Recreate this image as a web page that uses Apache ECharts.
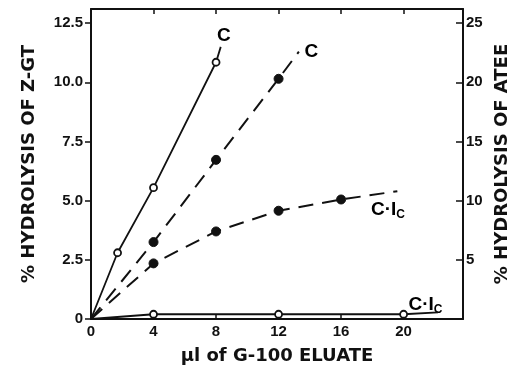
<!DOCTYPE html>
<html><head><meta charset="utf-8">
<script src="https://cdn.jsdelivr.net/npm/echarts@6/dist/echarts.min.js"></script>
<style>html,body{margin:0;padding:0;background:#fff}#c{width:528px;height:370px}</style>
</head><body><div id="c"></div>
<script>
// ---- data ----
const xTicks = [0, 4, 8, 12, 16, 20];
const yLeftTicks = ['0', '2.5', '5.0', '7.5', '10.0', '12.5'];
const yRightTicks = ['5', '10', '15', '20', '25'];

// Z-GT, enzyme C (left axis, open circles, solid)
const zgtC_x = [0, 1.7, 4, 8];
const zgtC_y = [0, 2.8, 5.55, 10.85];
const zgtC_end = [8.3, 11.5];

// ATEE, enzyme C (right axis, filled circles, dashed)
const ateeC_x = [0, 4, 8, 12];
const ateeC_y = [0, 6.5, 13.45, 20.3];
const ateeC_end = [13.3, 22.6];

// ATEE, C·Ic (right axis, filled circles, dashed)
const ateeCI_x = [0, 4, 8, 12, 16];
const ateeCI_y = [0, 4.7, 7.4, 9.15, 10.1];
const ateeCI_end = [19.6, 10.8];

// Z-GT, C·Ic (left axis, open circles, solid)
const zgtCI_x = [0, 4, 12, 20];
const zgtCI_y = [0, 0.2, 0.2, 0.2];
const zgtCI_end = [22.2, 0.28];

// curve labels (data coords on left axis)
const labelText = ['C', 'C', 'CI', 'CI'];
const labelPos = [[8.5, 11.95], [14.1, 11.3], [19.0, 4.6], [21.4, 0.62]];

// ---- build ----
function pts(xs, ys, end, sym) {
  const d = xs.map((x, i) => ({ value: [x, ys[i]], symbol: (x === 0 ? 'none' : sym) }));
  d.push({ value: end, symbol: 'none' });
  return d;
}
const FONT = 'Liberation Sans';
const TFONT = 'DejaVu Sans';
const lineCol = '#111';
function leftFmt(v) {
  const i = v / 2.5;
  return Math.abs(i - Math.round(i)) < 1e-6 ? (yLeftTicks[Math.round(i)] || '') : '';
}
function rightFmt(v) {
  const i = v / 5;
  return Math.abs(i - Math.round(i)) < 1e-6 ? (yRightTicks[Math.round(i) - 1] || '') : '';
}
const chart = echarts.init(document.getElementById('c'), null, { renderer: 'canvas' });
chart.setOption({
  animation: false,
  backgroundColor: '#fff',
  grid: { left: 91, right: 65, top: 9, bottom: 49, show: false },
  xAxis: [{
    type: 'value', min: 0, max: 23.8, interval: 4, position: 'bottom',
    name: 'μl of G-100 ELUATE', nameLocation: 'middle', nameGap: 28,
    nameTextStyle: { fontFamily: TFONT, fontWeight: 'bold', fontSize: 18, color: '#111' },
    axisLine: { show: true, onZero: false, lineStyle: { color: lineCol, width: 2 } },
    axisTick: { show: true, inside: true, length: 5, lineStyle: { color: lineCol, width: 1.5 } },
    axisLabel: { showMaxLabel: false, margin: 5, fontFamily: FONT, fontWeight: 'bold', fontSize: 15, color: '#111',
      formatter: v => (xTicks.indexOf(v) >= 0 ? String(v) : '') },
    splitLine: { show: false }
  }, {
    type: 'value', min: 0, max: 23.8, interval: 4, position: 'top',
    axisLine: { show: true, onZero: false, lineStyle: { color: lineCol, width: 2 } },
    axisTick: { show: true, inside: true, length: 5, lineStyle: { color: lineCol, width: 1.5 } },
    axisLabel: { show: false }, splitLine: { show: false }
  }],
  yAxis: [{
    type: 'value', min: 0, max: 13.1, interval: 2.5, position: 'left',
    name: '% HYDROLYSIS OF Z-GT', nameLocation: 'middle', nameGap: 53, nameRotate: 90,
    nameTextStyle: { fontFamily: TFONT, fontWeight: 'bold', fontSize: 18, color: '#111' },
    axisLine: { show: true, onZero: false, lineStyle: { color: lineCol, width: 2 } },
    axisTick: { show: true, inside: false, length: 6, lineStyle: { color: lineCol, width: 1.5 } },
    axisLabel: { showMaxLabel: false, margin: 8, fontFamily: FONT, fontWeight: 'bold', fontSize: 15, color: '#111',
      formatter: leftFmt },
    splitLine: { show: false }
  }, {
    type: 'value', min: 0, max: 26.2, interval: 5, position: 'right',
    name: '% HYDROLYSIS OF ATEE', nameLocation: 'middle', nameGap: 30, nameRotate: 90,
    nameTextStyle: { fontFamily: TFONT, fontWeight: 'bold', fontSize: 18, color: '#111' },
    axisLine: { show: true, onZero: false, lineStyle: { color: lineCol, width: 2 } },
    axisTick: { show: true, inside: true, length: 7, lineStyle: { color: lineCol, width: 1.5 } },
    axisLabel: { showMinLabel: false, showMaxLabel: false, margin: 3, fontFamily: FONT, fontWeight: 'bold', fontSize: 15, color: '#111',
      formatter: rightFmt },
    splitLine: { show: false }
  }],
  series: [{
    type: 'line', yAxisIndex: 0, data: pts(zgtC_x, zgtC_y, zgtC_end, 'circle'),
    symbolSize: 7, showAllSymbol: true,
    lineStyle: { color: lineCol, width: 1.8, type: 'solid' },
    itemStyle: { color: '#fff', borderColor: lineCol, borderWidth: 1.8 }, z: 3
  }, {
    type: 'line', yAxisIndex: 1, data: pts(ateeC_x, ateeC_y, ateeC_end, 'circle'),
    symbolSize: 9, showAllSymbol: true,
    lineStyle: { color: lineCol, width: 2, type: [15, 9] },
    itemStyle: { color: lineCol, borderColor: lineCol, borderWidth: 1 }, z: 3
  }, {
    type: 'line', yAxisIndex: 1, data: pts(ateeCI_x, ateeCI_y, ateeCI_end, 'circle'),
    symbolSize: 9, showAllSymbol: true,
    lineStyle: { color: lineCol, width: 2, type: [15, 9] },
    itemStyle: { color: lineCol, borderColor: lineCol, borderWidth: 1 }, z: 3
  }, {
    type: 'line', yAxisIndex: 0, data: pts(zgtCI_x, zgtCI_y, zgtCI_end, 'circle'),
    symbolSize: 7, showAllSymbol: true,
    lineStyle: { color: lineCol, width: 1.8, type: 'solid' },
    itemStyle: { color: '#fff', borderColor: lineCol, borderWidth: 1.8 }, z: 3
  }, {
    type: 'scatter', yAxisIndex: 0, symbolSize: 0, silent: true,
    itemStyle: { opacity: 1, color: '#000' },
    data: labelPos.map((p, i) => ({ value: p, name: labelText[i] })),
    label: {
      show: true, position: 'inside', color: '#000', opacity: 1, textBorderWidth: 0,
      formatter: (p) => p.name === 'C' ? '{n|C}' : '{n|C·I}{s|C}',
      rich: {
        n: { fontFamily: FONT, fontWeight: 'bold', fontSize: 19, color: '#000' },
        s: { fontFamily: FONT, fontWeight: 'bold', fontSize: 12, color: '#000', padding: [10, 0, 0, 0] }
      }
    }
  }]
});
</script></body></html>
